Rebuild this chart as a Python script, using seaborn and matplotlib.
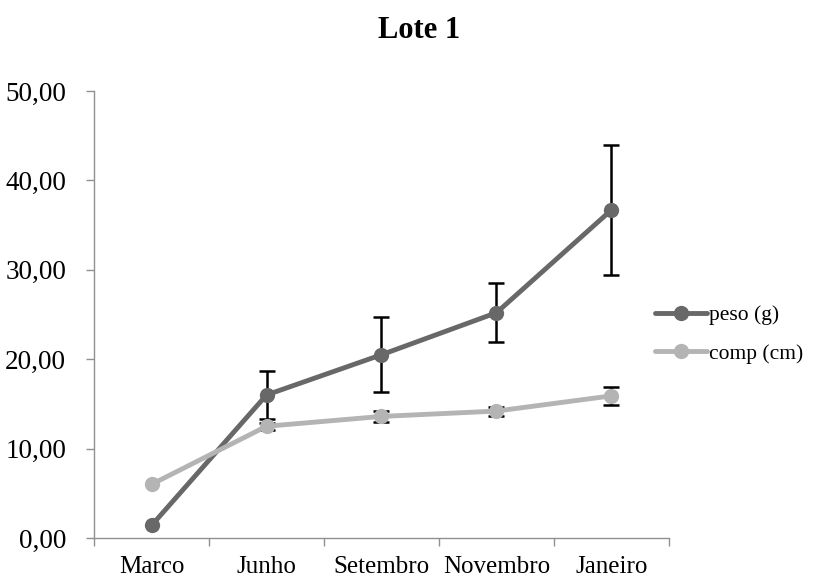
import matplotlib
matplotlib.use("Agg")
import matplotlib.pyplot as plt
import seaborn as sns
import pandas as pd
import numpy as np

months = ["Marco", "Junho", "Setembro", "Novembro", "Janeiro"]
peso = [1.4, 16.0, 20.5, 25.2, 36.7]
peso_err = [0.0, 2.7, 4.2, 3.3, 7.3]
comp = [6.0, 12.5, 13.6, 14.2, 15.9]
comp_err = [0.0, 0.4, 0.6, 0.5, 1.0]
yticks = [0, 10, 20, 30, 40, 50]

sns.set_theme(style="white")
plt.rcParams['font.family'] = ['Liberation Serif', 'DejaVu Serif']
plt.rcParams['text.color'] = 'black'
plt.rcParams['xtick.color'] = 'black'
plt.rcParams['ytick.color'] = 'black'

df = pd.DataFrame({
    "x": list(range(len(months))) * 2,
    "valor": peso + comp,
    "serie": ["peso (g)"] * len(months) + ["comp (cm)"] * len(months),
})

fig = plt.figure(figsize=(8.19, 5.79), dpi=100)
ax = fig.add_axes([0.1148, 0.0708, 0.702, 0.772])

dark = "#686868"
light = "#b4b4b4"
xs = np.arange(len(months))
for vals, errs in [(peso, peso_err), (comp, comp_err)]:
    idx = [i for i, e in enumerate(errs) if e > 0]
    ax.errorbar(xs[idx], np.array(vals)[idx], yerr=np.array(errs)[idx], fmt="none", ecolor="black",
                elinewidth=1.8, capsize=6, capthick=1.8, zorder=1)
sns.lineplot(data=df, x="x", y="valor", hue="serie", palette={"peso (g)": dark, "comp (cm)": light},
             marker="o", markersize=11, markeredgewidth=0, linewidth=3.5, ax=ax, zorder=3)

ax.set_xlim(-0.5, len(months) - 0.5)
ax.set_ylim(0, 50)
ax.set_xticks(xs)
ax.set_xticklabels(months, fontsize=18)
ax.set_xticks(np.arange(-0.5, len(months)), minor=True)
ax.tick_params(axis="x", which="major", length=0, pad=13)
ax.tick_params(axis="x", which="minor", length=6, width=1, color="#909090", direction="out")
ax.set_yticks(yticks)
ax.set_yticklabels([f"{v:.2f}".replace(".", ",") for v in yticks], fontsize=19.5)
ax.tick_params(axis="y", length=6, width=1, color="#909090", direction="out", left=True, pad=14)
ax.tick_params(axis="x", bottom=True, which="both")
for s in ["top", "right"]:
    ax.spines[s].set_visible(False)
for s in ["left", "bottom"]:
    ax.spines[s].set_color("#909090")
    ax.spines[s].set_linewidth(1)
ax.set_xlabel("")
ax.set_ylabel("")

ax.legend(title=None, frameon=False, loc="center left", bbox_to_anchor=(0.942, 0.455),
          fontsize=15.5, handlelength=2.4, labelspacing=0.85, handletextpad=0.1)

fig.suptitle("Lote 1", fontsize=22, fontweight="bold", x=0.512, y=0.972)
fig.savefig("out.png", dpi=100)
